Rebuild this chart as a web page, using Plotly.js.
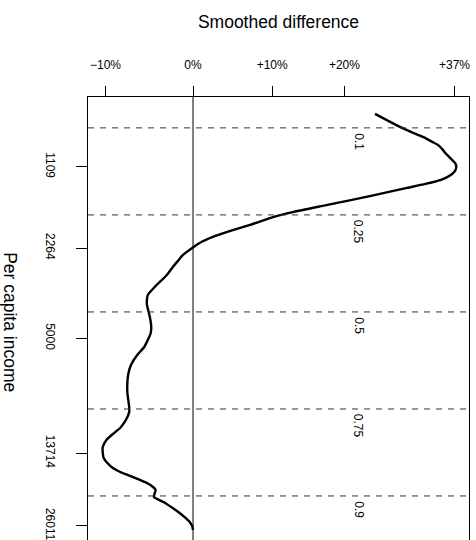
<!DOCTYPE html>
<html>
<head>
<meta charset="utf-8">
<script src="https://cdn.plot.ly/plotly-3.0.1.min.js"></script>
<style>html,body{margin:0;padding:0;background:#fff}#chart{width:476px;height:540px}</style>
</head>
<body>
<div id="chart"></div>
<script>
// Per capita income (y) and smoothed difference in percent (x)
const income = [696, 740, 780, 815, 852, 890, 914, 955, 981, 1025, 1071, 1109, 1148, 1190, 1243, 1288, 1334, 1381, 1430, 1482, 1562, 1647, 1736, 1846, 1946, 2052, 2163, 2260, 2403, 2533, 2671, 2865, 3184, 3416, 3568, 3729, 3966, 4256, 4565, 4813, 5073, 5395, 5787, 6319, 6839, 7337, 8080, 8596, 9140, 9550, 9980, 10428, 10993, 11588, 12215, 12989, 13692, 14307, 14950, 15622, 16181, 16760, 17360, 17980, 18464, 18955, 19462, 20156, 21063, 22009, 23202, 24241, 25119, 26012, 26944];
const diffPct = [24.5, 26.5, 28.3, 30.0, 31.9, 33.4, 34.3, 35.1, 35.5, 36.3, 37.1, 37.3, 37.1, 36.4, 34.8, 32.3, 29.4, 26.6, 23.9, 21.1, 16.9, 12.9, 9.8, 7.1, 4.6, 2.4, 0.8, -0.1, -1.2, -1.8, -2.4, -3.1, -4.5, -5.3, -5.4, -5.4, -5.2, -5.0, -4.9, -5.0, -5.3, -5.7, -6.5, -7.2, -7.5, -7.6, -7.6, -7.5, -7.4, -7.4, -7.6, -7.9, -8.4, -9.2, -9.9, -10.3, -10.3, -10.2, -9.8, -9.2, -8.4, -7.3, -6.2, -5.2, -4.7, -4.4, -4.5, -4.6, -3.5, -2.6, -1.6, -0.9, -0.4, -0.1, 0.0];

// Quantiles of income (dashed lines)
const quantileLevels = ['0.1', '0.25', '0.5', '0.75', '0.9'];
const quantileIncome = [787, 1691, 3966, 9303, 19980];

// Axis ticks
const xTickPct = [-10, 0, 10, 20, 37];
const xTickText = ['\u221210%', '0%', '+10%', '+20%', '+37%'];
const yTickVals = [1109, 2264, 5000, 13714, 26011];
const yTickText = ['1109', '2264', '5000', '13714', '26011'];

const ratio = p => 1 + p / 100;
const FONT = 'Liberation Sans, Arial, Helvetica, sans-serif';

const xRange = [Math.log10(0.8812), Math.log10(1.3942)];
const yRange = [Math.log10(29420), Math.log10(600)];

const shapes = quantileIncome.map(q => ({
  type: 'line', xref: 'paper', yref: 'y', x0: 0, x1: 1, y0: q, y1: q,
  line: {color: '#333', width: 1, dash: '6px,6px'}
}));
shapes.push({type: 'line', xref: 'x', yref: 'paper', x0: 1, x1: 1, y0: 0, y1: 1,
  line: {color: '#000', width: 1}});

const annotations = quantileIncome.map((q, i) => ({
  x: Math.log10(1.22), y: Math.log10(q), xref: 'x', yref: 'y',
  text: quantileLevels[i], showarrow: false, textangle: 90,
  xanchor: 'center', yanchor: 'top', yshift: -3,
  font: {family: FONT, size: 12, color: '#000'}
}));
annotations.push({
  xref: 'paper', yref: 'paper', x: -0.205, y: 0.492,
  text: 'Per capita income', showarrow: false, textangle: 90,
  xanchor: 'center', yanchor: 'middle',
  font: {family: FONT, size: 17.5, color: '#000'}
});

const trace = {
  type: 'scatter', mode: 'lines',
  x: diffPct.map(ratio), y: income,
  line: {color: '#000', width: 2.4, shape: 'spline', smoothing: 0.5},
  hoverinfo: 'skip'
};

const layout = {
  width: 476, height: 540,
  margin: {l: 88, r: 7, t: 97, b: 0, pad: 0},
  paper_bgcolor: '#fff', plot_bgcolor: '#fff',
  showlegend: false,
  title: {text: 'Smoothed difference', x: 0.5, xref: 'paper', xanchor: 'center',
    y: 1 - 22 / 540, yref: 'container', yanchor: 'middle',
    font: {family: FONT, size: 17.5, color: '#000'}},
  xaxis: {
    type: 'log', range: xRange, side: 'top',
    tickvals: xTickPct.map(ratio), ticktext: xTickText,
    ticks: 'outside', ticklen: 10, tickwidth: 1, tickcolor: '#000',
    ticklabelstandoff: 12,
    showline: true, linecolor: '#000', linewidth: 1, mirror: false,
    showgrid: false, zeroline: false,
    tickfont: {family: FONT, size: 12, color: '#000'}
  },
  yaxis: {
    type: 'log', range: yRange,
    tickvals: yTickVals, ticktext: yTickText, tickangle: 90,
    ticks: 'outside', ticklen: 11, tickwidth: 1, tickcolor: '#000',
    ticklabelstandoff: 16, ticklabeloverflow: 'allow',
    showline: true, linecolor: '#000', linewidth: 1, mirror: true,
    showgrid: false, zeroline: false,
    tickfont: {family: FONT, size: 12, color: '#000'}
  },
  shapes: shapes,
  annotations: annotations
};

Plotly.newPlot('chart', [trace], layout, {displayModeBar: false, staticPlot: true});
</script>
</body>
</html>
